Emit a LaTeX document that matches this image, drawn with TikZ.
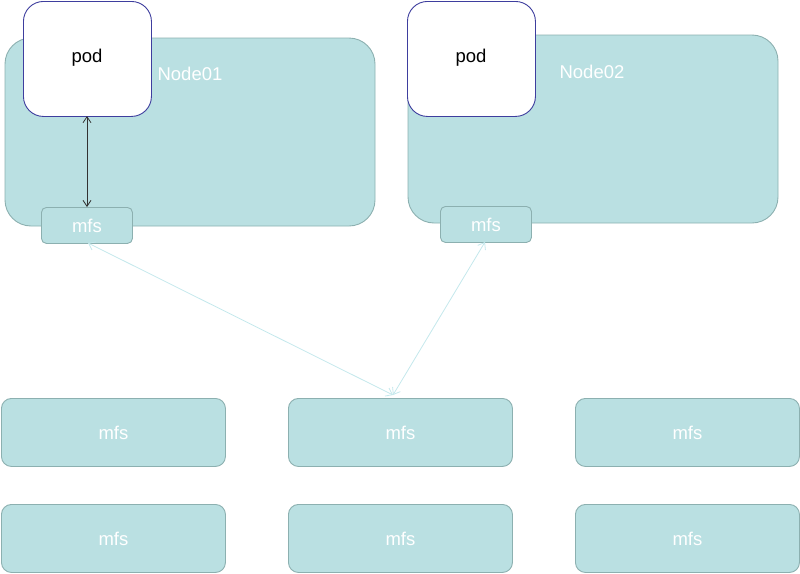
\documentclass[tikz,border=0pt]{standalone}
\usepackage{fontspec}
\setmainfont{Liberation Sans}
\usetikzlibrary{arrows.meta}
\definecolor{boxfill}{RGB}{186,224,226}
\definecolor{boxline}{RGB}{140,176,176}
\definecolor{podline}{RGB}{62,62,158}
\definecolor{linkline}{RGB}{196,232,236}
\definecolor{darkarrow}{RGB}{50,50,50}
\tikzset{
  hostbox/.style={draw=boxline, fill=boxfill, line width=0.9pt, rounded corners=26pt},
  podbox/.style={draw=podline, fill=white, line width=0.9pt, rounded corners=20pt},
  mfsbox/.style={draw=boxline, fill=boxfill, line width=0.9pt, rounded corners=5pt},
  bigmfs/.style={draw=boxline, fill=boxfill, line width=0.9pt, rounded corners=10pt},
  whitetxt/.style={text=white, font=\fontsize{18.5}{22}\selectfont},
  blacktxt/.style={text=black, font=\fontsize{18.5}{22}\selectfont},
  link/.style={draw=linkline, line width=0.8pt, {Straight Barb[length=6pt,width=9pt]}-{Straight Barb[length=6pt,width=9pt]}},
  podlink/.style={draw=darkarrow, line width=0.8pt, {Straight Barb[length=6pt,width=8pt]}-{Straight Barb[length=6pt,width=8pt]}}
}
\begin{document}
\begin{tikzpicture}[x=1pt,y=-1pt]
\useasboundingbox (0,0) rectangle (800,573);
% host nodes
\draw[hostbox] (5,38) rectangle (375,226);
\node[whitetxt] (n1lab) at (190,74) {Node01};
\draw[hostbox] (408,35) rectangle (778,223);
\node[whitetxt] (n2lab) at (592,72) {Node02};
% pods
\node[podbox, blacktxt, minimum width=128pt, minimum height=115pt, inner sep=0pt, anchor=north west] (pod1) at (23,1) {};
\node[blacktxt] (pod1lab) at (87,58) {pod};
\node[podbox, blacktxt, minimum width=128pt, minimum height=115pt, inner sep=0pt, anchor=north west] (pod2) at (407,1) {};
\node[blacktxt] (pod2lab) at (471,58) {pod};
% local mfs
\node[mfsbox, whitetxt, minimum width=91pt, minimum height=36pt, inner sep=0pt, anchor=north west] (mfs1) at (41,207) {mfs};
\node[mfsbox, whitetxt, minimum width=91pt, minimum height=36pt, inner sep=0pt, anchor=north west] (mfs2) at (440,206) {mfs};
% bottom row 1
\node[bigmfs, whitetxt, minimum width=224pt, minimum height=68pt, inner sep=0pt, anchor=north west] (b1) at (1,398) {mfs};
\node[bigmfs, whitetxt, minimum width=224pt, minimum height=68pt, inner sep=0pt, anchor=north west] (b2) at (288,398) {mfs};
\node[bigmfs, whitetxt, minimum width=224pt, minimum height=68pt, inner sep=0pt, anchor=north west] (b3) at (575,398) {mfs};
% bottom row 2
\node[bigmfs, whitetxt, minimum width=224pt, minimum height=68pt, inner sep=0pt, anchor=north west] (c1) at (1,504) {mfs};
\node[bigmfs, whitetxt, minimum width=224pt, minimum height=68pt, inner sep=0pt, anchor=north west] (c2) at (288,504) {mfs};
\node[bigmfs, whitetxt, minimum width=224pt, minimum height=68pt, inner sep=0pt, anchor=north west] (c3) at (575,504) {mfs};
% connectors
\coordinate (meet) at (393,395);
\coordinate (m1b) at (88,243);
\coordinate (m2b) at (485,242);
\coordinate (p1b) at (87,116);
\coordinate (m1t) at (87,207);
\draw[podlink] (p1b) -- (m1t);
\draw[link] (m1b) -- (meet);
\draw[link] (m2b) -- (meet);
\end{tikzpicture}
\end{document}
